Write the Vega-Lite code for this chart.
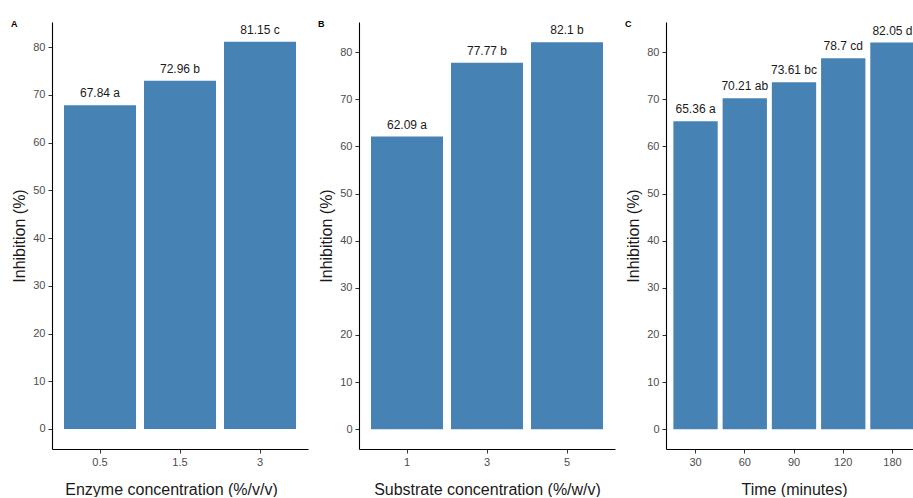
{
  "$schema": "https://vega.github.io/schema/vega-lite/v6.json",
  "background": "white",
  "padding": {"left": 11, "top": 19, "right": 0, "bottom": 0},
  "spacing": 51,
  "bounds": "flush",
  "config": {
    "view": {"stroke": null},
    "font": "Liberation Sans",
    "axis": {
      "grid": false,
      "domainColor": "#000000",
      "domainWidth": 1.1,
      "tickColor": "#333333",
      "tickSize": 4,
      "labelColor": "#4D4D4D",
      "labelFontSize": 11,
      "labelPadding": 3,
      "titleFontSize": 16,
      "titleFontWeight": "normal",
      "titleColor": "#1a1a1a"
    },
    "axisX": {"labelAngle": 0, "titlePadding": 14},
    "axisY": {"titlePadding": 5, "values": [0, 10, 20, 30, 40, 50, 60, 70, 80]}
  },
  "hconcat": [
    {
      "width": 256,
      "height": 427,
      "title": {"text": "A", "anchor": "start", "frame": "group", "fontSize": 9, "fontWeight": "bold", "color": "#000000", "dx": -41, "dy": 15.5, "offset": 0, "baseline": "bottom"},
      "data": {"values": [
        {"x": "0.5", "value": 67.84, "label": "67.84 a"},
        {"x": "1.5", "value": 72.96, "label": "72.96 b"},
        {"x": "3", "value": 81.15, "label": "81.15 c"}
      ]},
      "encoding": {
        "x": {"field": "x", "type": "nominal", "sort": null, "scale": {"paddingInner": 0.1, "paddingOuter": 0.15}, "axis": {"title": "Enzyme concentration (%/v/v)", "titleX": 119}},
        "y": {"field": "value", "type": "quantitative", "scale": {"domain": [-4.2, 85.3], "nice": false, "zero": false}, "axis": {"title": "Inhibition (%)"}}
      },
      "layer": [
        {"mark": {"type": "bar", "color": "#4682B4"}, "encoding": {"y2": {"datum": 0}}},
        {"mark": {"type": "text", "fontSize": 12, "color": "#1a1a1a", "baseline": "alphabetic", "dy": -8}, "encoding": {"text": {"field": "label"}}}
      ]
    },
    {
      "width": 256,
      "height": 427,
      "title": {"text": "B", "anchor": "start", "frame": "group", "fontSize": 9, "fontWeight": "bold", "color": "#000000", "dx": -41, "dy": 15.5, "offset": 0, "baseline": "bottom"},
      "data": {"values": [
        {"x": "1", "value": 62.09, "label": "62.09 a"},
        {"x": "3", "value": 77.77, "label": "77.77 b"},
        {"x": "5", "value": 82.1, "label": "82.1 b"}
      ]},
      "encoding": {
        "x": {"field": "x", "type": "nominal", "sort": null, "scale": {"paddingInner": 0.1, "paddingOuter": 0.15}, "axis": {"title": "Substrate concentration (%/w/v)"}},
        "y": {"field": "value", "type": "quantitative", "scale": {"domain": [-4.2, 86.4], "nice": false, "zero": false}, "axis": {"title": "Inhibition (%)"}}
      },
      "layer": [
        {"mark": {"type": "bar", "color": "#4682B4"}, "encoding": {"y2": {"datum": 0}}},
        {"mark": {"type": "text", "fontSize": 12, "color": "#1a1a1a", "baseline": "alphabetic", "dy": -8}, "encoding": {"text": {"field": "label"}}}
      ]
    },
    {
      "width": 256,
      "height": 427,
      "title": {"text": "C", "anchor": "start", "frame": "group", "fontSize": 9, "fontWeight": "bold", "color": "#000000", "dx": -41, "dy": 15.5, "offset": 0, "baseline": "bottom"},
      "data": {"values": [
        {"x": "30", "value": 65.36, "label": "65.36 a"},
        {"x": "60", "value": 70.21, "label": "70.21 ab"},
        {"x": "90", "value": 73.61, "label": "73.61 bc"},
        {"x": "120", "value": 78.7, "label": "78.7 cd"},
        {"x": "180", "value": 82.05, "label": "82.05 d"}
      ]},
      "encoding": {
        "x": {"field": "x", "type": "nominal", "sort": null, "scale": {"paddingInner": 0.1, "paddingOuter": 0.15}, "axis": {"title": "Time (minutes)"}},
        "y": {"field": "value", "type": "quantitative", "scale": {"domain": [-4.2, 86.4], "nice": false, "zero": false}, "axis": {"title": "Inhibition (%)"}}
      },
      "layer": [
        {"mark": {"type": "bar", "color": "#4682B4"}, "encoding": {"y2": {"datum": 0}}},
        {"mark": {"type": "text", "fontSize": 12, "color": "#1a1a1a", "baseline": "alphabetic", "dy": -8}, "encoding": {"text": {"field": "label"}}}
      ]
    }
  ]
}
